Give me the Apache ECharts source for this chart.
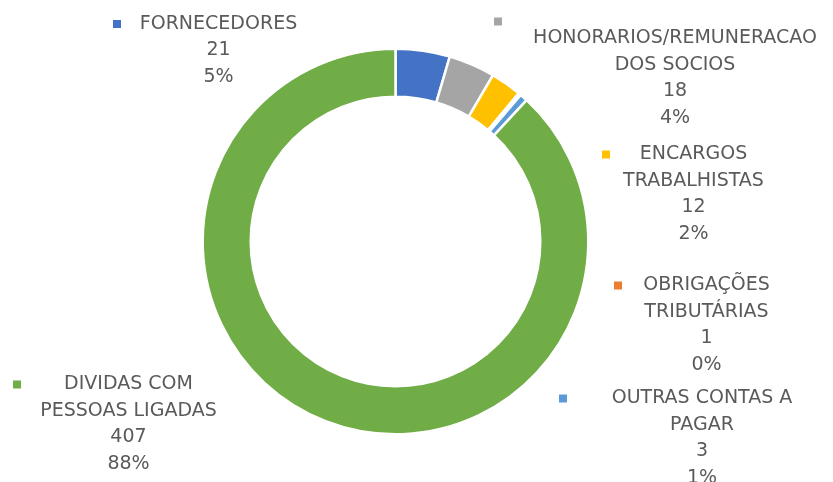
<!DOCTYPE html>
<html>
<head>
<meta charset="utf-8">
<script src="https://cdn.jsdelivr.net/npm/echarts@6/dist/echarts.min.js"></script>
<style>
  html, body { margin: 0; padding: 0; background: #ffffff; }
  #chart { width: 833px; height: 482px; }
</style>
</head>
<body>
<div id="chart"></div>
<script>
// Contas a pagar, by group
const categories = [
  'FORNECEDORES',
  'HONORARIOS/REMUNERACAO\nDOS SOCIOS',
  'ENCARGOS\nTRABALHISTAS',
  'OBRIGAÇÕES\nTRIBUTÁRIAS',
  'OUTRAS CONTAS A\nPAGAR',
  'DIVIDAS COM\nPESSOAS LIGADAS'
];
const values = [21, 18, 12, 1, 3, 407];
const shareLabels = ['5%', '4%', '2%', '0%', '1%', '88%'];
const colors = ['#4472C4', '#A5A5A5', '#FFC000', '#ED7D31', '#5B9BD5', '#70AD47'];

// Label boxes: left edge (where the key square sits), top edge, box width
const labelBoxes = [
  { x: 113, y: 10.75, w: 203 },
  { x: 494, y: 17.75, w: 354, keyAbove: true },
  { x: 602, y: 141.25, w: 175 },
  { x: 614, y: 272.25, w: 177 },
  { x: 559, y: 385.25, w: 278 },
  { x: 13, y: 371.25, w: 223 }
];

const FONT = '"DejaVu Sans", sans-serif';
const TEXT_COLOR = '#5a5a5a';
const LH = 26.5;
const KEY = 8;

function labelText(i) {
  const box = labelBoxes[i];
  const lines = categories[i].split('\n').concat([String(values[i]), shareLabels[i]]);
  let s = box.keyAbove ? '{ka|}\n' : '';
  s += lines.map(function (ln, j) {
    return (j === 0 && !box.keyAbove ? '{k|}' : '{sp|}') + '{t|' + ln + '}';
  }).join('\n');
  return s;
}

function labelRich(i) {
  return {
    k:  { width: KEY, height: KEY, backgroundColor: colors[i], align: 'left', lineHeight: LH },
    ka: { width: KEY, height: KEY, backgroundColor: colors[i], align: 'left', lineHeight: 7.5 },
    sp: { width: KEY, height: KEY, align: 'left', lineHeight: LH },
    t:  { fontFamily: FONT, fontSize: 19, color: TEXT_COLOR, align: 'center', lineHeight: LH }
  };
}

const chart = echarts.init(document.getElementById('chart'), null, { renderer: 'canvas' });

chart.setOption({
  backgroundColor: '#ffffff',
  animation: false,
  series: [{
    type: 'pie',
    center: [395.5, 241.5],
    radius: [144.8, 192.8],
    startAngle: 90,
    clockwise: true,
    avoidLabelOverlap: false,
    silent: true,
    emphasis: { disabled: true },
    itemStyle: { borderColor: '#ffffff', borderWidth: 2.5 },
    label: {
      show: true,
      position: 'inside',
      fontFamily: FONT,
      fontSize: 19,
      color: TEXT_COLOR,
      lineHeight: LH,
      overflow: 'none',
      textBorderWidth: 0
    },
    labelLine: { show: false },
    labelLayout: function (p) {
      const b = labelBoxes[p.dataIndex];
      return { x: b.x, y: b.y, align: 'left', verticalAlign: 'top' };
    },
    data: values.map(function (v, i) {
      return {
        name: categories[i],
        value: v,
        itemStyle: { color: colors[i] },
        label: {
          formatter: labelText(i),
          width: labelBoxes[i].w,
          rich: labelRich(i)
        }
      };
    })
  }]
});
</script>
</body>
</html>
